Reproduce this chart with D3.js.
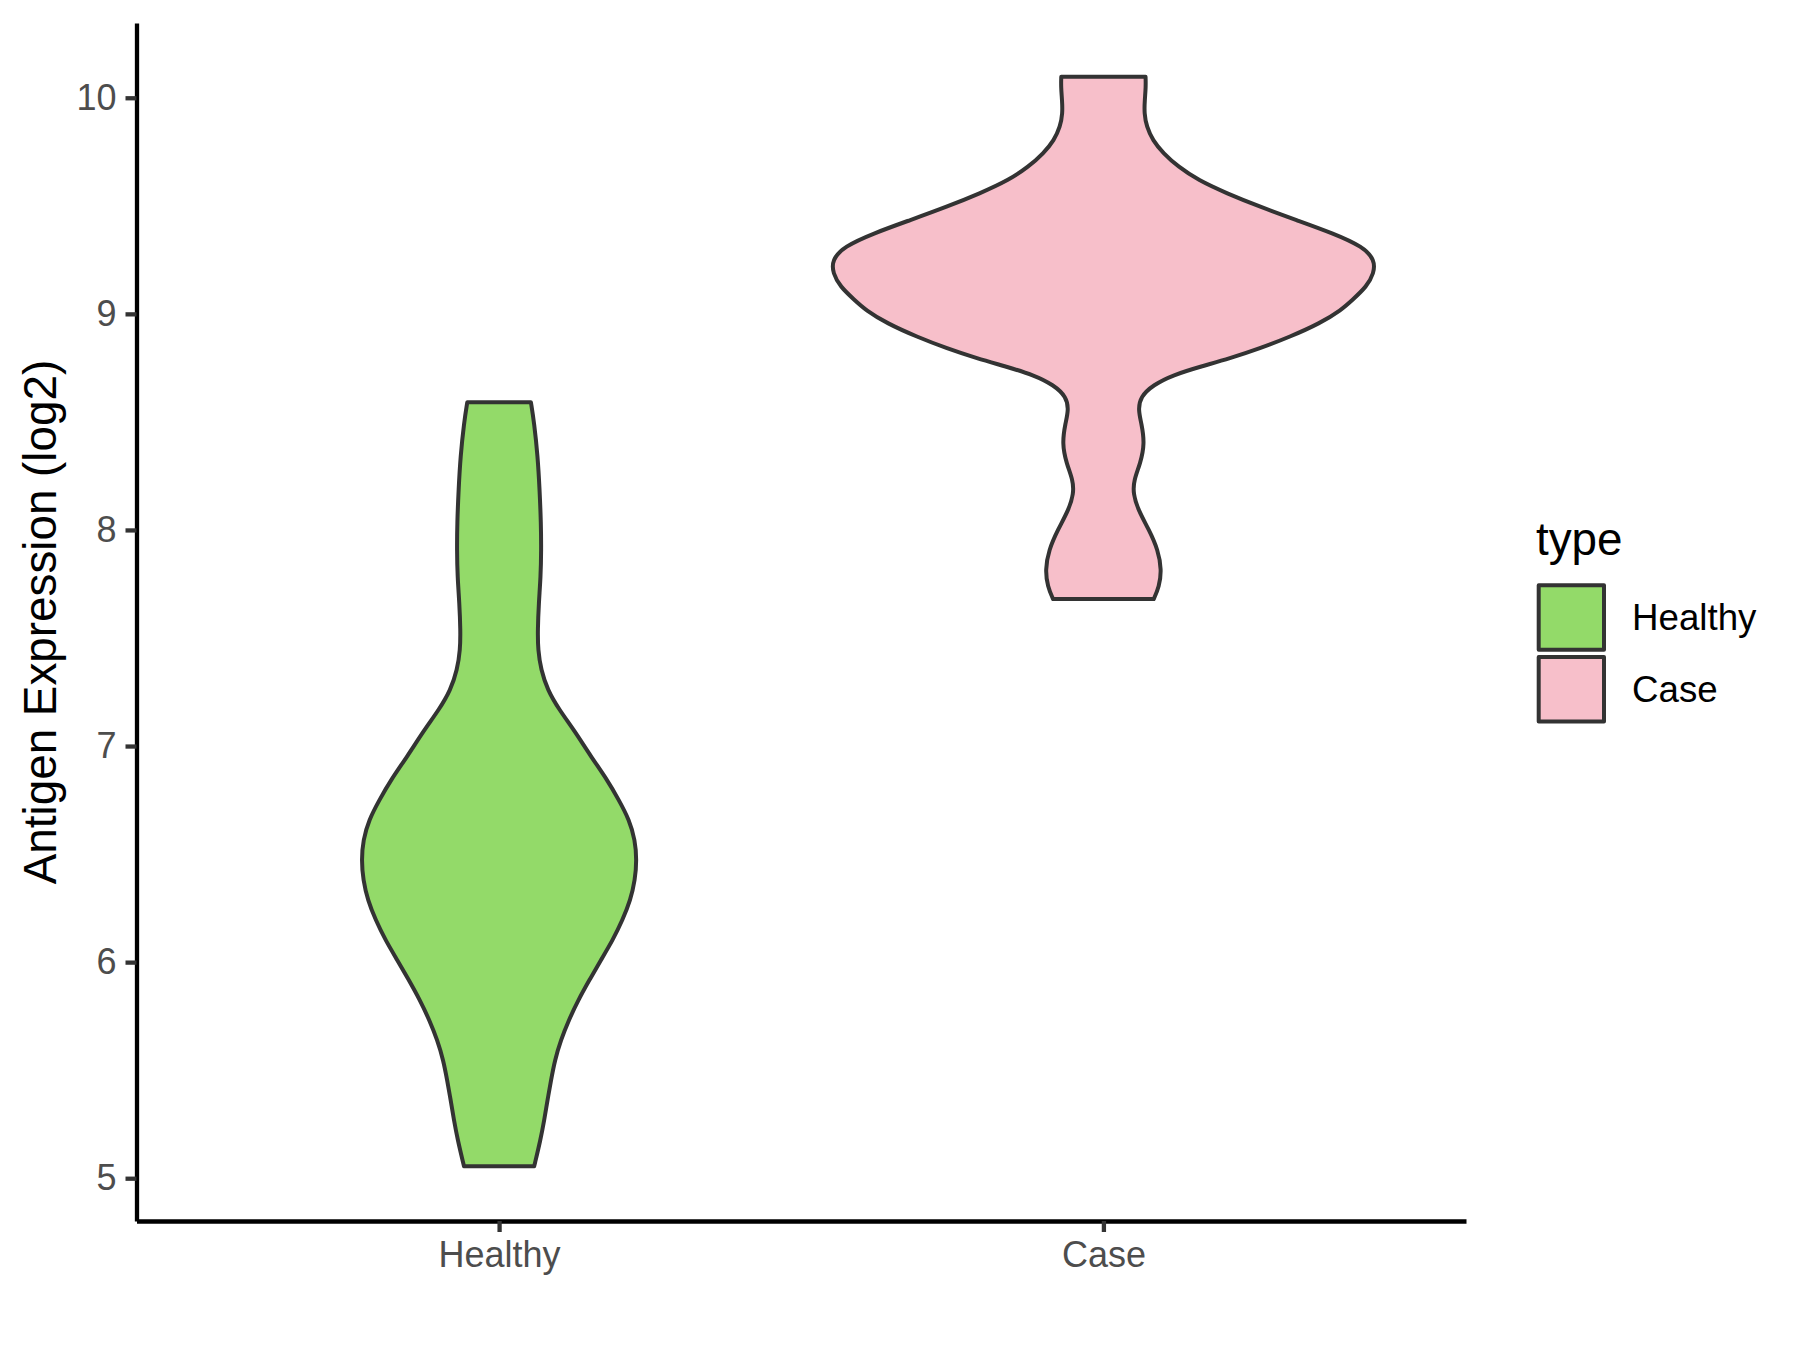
<!DOCTYPE html>
<html>
<head>
<meta charset="utf-8">
<script src="https://cdn.jsdelivr.net/npm/d3@7"></script>
<style>
  body { margin: 0; background: #fff; }
  svg { display: block; font-family: "Liberation Sans", Arial, sans-serif; }
</style>
</head>
<body>
<div id="chart"></div>
<script>
// categories, fills and ticks
const groups = ["Healthy", "Case"];
const fills = ["#93DA69", "#F7BFCA"];
const yTicks = [5, 6, 7, 8, 9, 10];

// violin outlines: value (log2) and relative half width
const healthyValue = [8.591, 8.496, 8.341, 8.187, 8.032, 7.909, 7.785, 7.662, 7.538, 7.445, 7.353, 7.26, 7.168, 7.075, 6.951, 6.843, 6.751, 6.658, 6.565, 6.473, 6.38, 6.287, 6.195, 6.102, 6.009, 5.917, 5.824, 5.731, 5.639, 5.546, 5.454, 5.361, 5.268, 5.176, 5.055];
const healthyWidth = [0.117, 0.129, 0.142, 0.149, 0.154, 0.155, 0.153, 0.146, 0.142, 0.143, 0.154, 0.178, 0.221, 0.275, 0.338, 0.398, 0.44, 0.479, 0.5, 0.506, 0.5, 0.483, 0.454, 0.418, 0.374, 0.332, 0.291, 0.256, 0.227, 0.205, 0.191, 0.178, 0.166, 0.152, 0.129];

const caseValue = [10.097, 10.051, 9.989, 9.928, 9.866, 9.804, 9.743, 9.681, 9.619, 9.558, 9.496, 9.434, 9.373, 9.311, 9.249, 9.188, 9.126, 9.064, 9.018, 8.956, 8.894, 8.84, 8.794, 8.755, 8.717, 8.671, 8.616, 8.555, 8.493, 8.401, 8.308, 8.231, 8.169, 8.092, 8.0, 7.907, 7.815, 7.737, 7.68];
const caseWidth = [0.155, 0.156, 0.152, 0.15, 0.159, 0.181, 0.22, 0.275, 0.348, 0.453, 0.575, 0.71, 0.845, 0.955, 0.998, 0.995, 0.968, 0.915, 0.875, 0.796, 0.686, 0.575, 0.465, 0.355, 0.256, 0.183, 0.136, 0.128, 0.14, 0.152, 0.136, 0.112, 0.109, 0.128, 0.168, 0.201, 0.214, 0.205, 0.185];

const violins = [
  {group: "Healthy", fill: fills[0], pts: healthyValue.map((v, i) => ({v: v, w: healthyWidth[i]}))},
  {group: "Case", fill: fills[1], pts: caseValue.map((v, i) => ({v: v, w: caseWidth[i]}))}
];

const width = 1800, height = 1350;
const plotLeft = 136.5, plotRight = 1466, plotTop = 23, plotBottom = 1221;

const svg = d3.select("#chart").append("svg")
  .attr("width", width)
  .attr("height", height);

const x = d3.scalePoint()
  .domain(groups)
  .range([plotLeft, plotRight])
  .padding(0.6);

const y = d3.scaleLinear()
  .domain([4.802, 10.346])
  .range([plotBottom, plotTop]);

// half width: max violin is 0.9 of the category step
const w = d3.scaleLinear()
  .domain([0, 1])
  .range([0, x.step() * 0.45]);

// violins (b-spline smooths out small reading noise)
violins.forEach(function(d) {
  const cx = x(d.group);
  const area = d3.area()
    .y(p => y(p.v))
    .x0(p => cx - w(p.w))
    .x1(p => cx + w(p.w))
    .curve(d3.curveBasis);
  svg.append("path")
    .datum(d.pts)
    .attr("d", area)
    .attr("fill", d.fill)
    .attr("stroke", "#333333")
    .attr("stroke-width", 4)
    .attr("stroke-linejoin", "round");
});

// axes
const yAxis = svg.append("g")
  .attr("transform", "translate(" + plotLeft + ",0)")
  .call(d3.axisLeft(y).tickValues(yTicks).tickFormat(d3.format("d"))
    .tickSize(11).tickSizeOuter(0).tickPadding(9));

const xAxis = svg.append("g")
  .attr("transform", "translate(0," + plotBottom + ")")
  .call(d3.axisBottom(x).tickSize(11).tickSizeOuter(0).tickPadding(9));

[yAxis, xAxis].forEach(function(g) {
  g.select(".domain").attr("stroke", "#000").attr("stroke-width", 4.3);
  g.selectAll(".tick line").attr("stroke", "#333333").attr("stroke-width", 4.3);
  g.selectAll(".tick text")
    .attr("fill", "#4D4D4D")
    .style("font-size", "36px")
    .style("font-family", "'Liberation Sans', Arial, sans-serif");
});

// y title
svg.append("text")
  .attr("transform", "translate(55.5," + (plotTop + plotBottom) / 2 + ") rotate(-90)")
  .attr("text-anchor", "middle")
  .style("font-size", "45.8px")
  .attr("fill", "#000")
  .text("Antigen Expression (log2)");

// legend
const legend = svg.append("g").attr("transform", "translate(1536,0)");

legend.append("text")
  .attr("x", 0)
  .attr("y", 555)
  .style("font-size", "45.8px")
  .attr("fill", "#000")
  .text("type");

groups.forEach(function(g, i) {
  const ky = 585.3 + i * 71.7;
  legend.append("rect")
    .attr("x", 2.7)
    .attr("y", ky)
    .attr("width", 65.3)
    .attr("height", 64.4)
    .attr("fill", fills[i])
    .attr("stroke", "#333333")
    .attr("stroke-width", 4)
    .attr("stroke-linejoin", "round");
  legend.append("text")
    .attr("x", 96)
    .attr("y", ky + 32.2)
    .attr("dy", "0.35em")
    .style("font-size", "36.7px")
    .attr("fill", "#000")
    .text(g);
});
</script>
</body>
</html>
